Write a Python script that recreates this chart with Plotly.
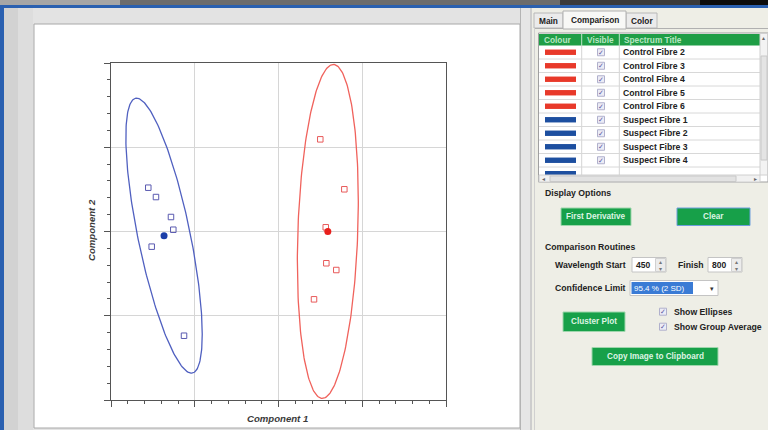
import numpy as np
import plotly.graph_objects as go

W, H = 768, 430

# ---------------- data ----------------
control_x = [2.499, 2.786, 2.564, 2.571, 2.690, 2.424]
control_y = [3.094, 2.501, 2.050, 1.623, 1.543, 1.195]
suspect_x = [0.445, 0.537, 0.716, 0.744, 0.486, 0.872]
suspect_y = [2.520, 2.409, 2.172, 2.021, 1.820, 0.763]

# confidence ellipse extents: half-width, half-height, x-offset of the top point
control_ellipse = [0.364, 1.982, 0.066]
suspect_ellipse = [0.456, 1.632, -0.327]

spectrum_titles = ["Control Fibre 2", "Control Fibre 3", "Control Fibre 4",
                   "Control Fibre 5", "Control Fibre 6", "Suspect Fibre 1",
                   "Suspect Fibre 2", "Suspect Fibre 3", "Suspect Fibre 4"]
spectrum_groups = ["control"] * 5 + ["suspect"] * 4
table_headers = ["Colour", "Visible", "Spectrum Title"]

wavelength_start = "450"
wavelength_finish = "800"
confidence_limit = "95.4 % (2 SD)"

RED_SW = "#e8392a"
BLUE_SW = "#1d4fa0"
FONT = "Liberation Sans, Arial, sans-serif"


def ellipse(cx, cy, hx, hy, dx_top, n=240):
    M = np.array([[hx ** 2, dx_top * hy], [dx_top * hy, hy ** 2]])
    L = np.linalg.cholesky(M)
    t = np.linspace(0, 2 * np.pi, n)
    p = L @ np.vstack([np.cos(t), np.sin(t)])
    return cx + p[0], cy + p[1]


fig = go.Figure()

groups = [
    (control_x, control_y, control_ellipse, "#f0625c", "#e85a5a", "#e8201c"),
    (suspect_x, suspect_y, suspect_ellipse, "#5060c0", "#5a5ab0", "#1c3fa8"),
]
for gx, gy, ell, ecol, pcol, mcol in groups:
    cx, cy = float(np.mean(gx)), float(np.mean(gy))
    ex, ey = ellipse(cx, cy, *ell)
    fig.add_trace(go.Scatter(x=ex, y=ey, mode="lines",
                             line=dict(color=ecol, width=1.3), hoverinfo="skip"))
    fig.add_trace(go.Scatter(x=gx, y=gy, mode="markers",
                             marker=dict(symbol="square-open", size=5.5,
                                         color=pcol, line=dict(width=1, color=pcol))))
    fig.add_trace(go.Scatter(x=[cx], y=[cy], mode="markers",
                             marker=dict(symbol="circle", size=7, color=mcol)))

# ---------------- UI decoration ----------------
shapes = []
annotations = []


def X(px):
    return px / W


def Y(py):
    return 1 - py / H


def rect(x0, y0, x1, y1, fill, line=None, lw=1):
    shapes.append(dict(type="rect", xref="paper", yref="paper",
                       x0=X(x0), x1=X(x1), y0=Y(y1), y1=Y(y0),
                       fillcolor=fill, layer="below",
                       line=dict(color=line if line else fill, width=lw if line else 0)))


def hline(x0, x1, y, color, w=1):
    shapes.append(dict(type="line", xref="paper", yref="paper",
                       x0=X(x0), x1=X(x1), y0=Y(y), y1=Y(y), layer="below",
                       line=dict(color=color, width=w)))


def vline(x, y0, y1, color, w=1):
    shapes.append(dict(type="line", xref="paper", yref="paper",
                       x0=X(x), x1=X(x), y0=Y(y0), y1=Y(y1), layer="below",
                       line=dict(color=color, width=w)))


def text(x, y, s, size=8.7, color="#222222", bold=True, anchor="left",
         italic=False, angle=0):
    annotations.append(dict(xref="paper", yref="paper", x=X(x), y=Y(y), text=s,
                            showarrow=False, xanchor=anchor, yanchor="middle",
                            borderpad=0, textangle=angle,
                            font=dict(family=FONT, size=size, color=color,
                                      weight="bold" if bold else "normal",
                                      style="italic" if italic else "normal")))


# window frame / background
rect(0, 0, 120, 5, "#a6a6a6")
rect(120, 0, 560, 5, "#6c6c6c")
rect(560, 0, 700, 5, "#3a3a3a")
rect(700, 0, 768, 5, "#0c0c0c")
rect(0, 5, 768, 8, "#2a60b0")
rect(0, 5, 4, 430, "#2a60b0")
rect(4, 8, 768, 430, "#e3e3e3")
rect(4, 8, 18, 430, "#d2d2d2")
rect(18, 8, 33, 430, "#dddddd")
# white chart panel
rect(34, 24, 520, 428, "#ffffff", "#a8a8a8", 1)
# splitter
rect(520, 8, 532, 430, "#e6e6e6")
vline(520.5, 8, 430, "#b4b4b4")
vline(531, 8, 430, "#b4b4b4")
# right panel
rect(532, 8, 768, 430, "#eeeee6")

# tabs
rect(534, 13, 563, 28, "#ebebeb", "#b8b8b8")
rect(626, 13, 657, 28, "#ebebeb", "#b8b8b8")
hline(534, 768, 28.5, "#b0b0b0")
vline(534.5, 28, 430, "#d0d0d0")
rect(563, 11, 626, 29, "#f8f8f6", "#b0b0b0")
text(548.5, 20.5, "Main", 8.3, anchor="center")
text(594.5, 20, "Comparison", 8.3, anchor="center")
text(641.5, 20.5, "Color", 8.3, anchor="center")

# table
rect(538.5, 33, 768, 182, "#ffffff", "#a0a0a0")
rect(539, 34, 760, 45.5, "#1f9e46")
vline(581.7, 34, 45.5, "#bfe6c8")
vline(619.3, 34, 45.5, "#bfe6c8")
text(557.5, 39.8, table_headers[0], 8.3, "#b8e6c2", anchor="center")
text(600.5, 39.8, table_headers[1], 8.3, "#b8e6c2", anchor="center")
text(623, 39.8, table_headers[2], 8.3, "#b8e6c2")

ROW0, ROWH = 45.5, 13.5
vline(581.7, 45.5, 175, "#d4d4d4")
vline(619.3, 45.5, 175, "#d4d4d4")
for i, (title, grp) in enumerate(zip(spectrum_titles, spectrum_groups)):
    y0 = ROW0 + ROWH * i
    yc = y0 + ROWH / 2
    hline(539, 760, y0 + ROWH, "#d8d8d8")
    rect(545, yc - 2.7, 576, yc + 2.7, RED_SW if grp == "control" else BLUE_SW)
    rect(597.5, yc - 3.5, 604.5, yc + 3.5, "#ececf6", "#b0b0cc")
    text(601, yc, "✓", 7, "#5a5aa0", bold=False, anchor="center")
    text(621.5, yc, title, 8.7)
# partially visible next row
rect(545, 171, 576, 175, BLUE_SW)

# scrollbars
rect(760, 33.5, 767.5, 175, "#f3f3f3", "#d0d0d0")
rect(761, 56, 767, 160, "#e4e4e4", "#c8c8c8")
text(763.5, 38.5, "▴", 5.5, "#666666", bold=False, anchor="center")
rect(539, 175, 760, 182, "#f1f1f1", "#d0d0d0")
rect(550, 176, 736, 181.5, "#e2e2e2", "#c8c8c8")
text(543, 178.5, "◂", 6, "#666666", bold=False, anchor="center")
text(755, 178.5, "▸", 6, "#666666", bold=False, anchor="center")

# options
GREEN = "#17a049"
BTN_TXT = "#def4e4"
text(544, 192.5, "Display Options", 8.7)
rect(561, 208, 631, 225.5, GREEN, "#9ed6ac")
text(596, 216.8, "First Derivative", 8.2, BTN_TXT, anchor="center")
rect(677, 208, 750, 225.5, GREEN, "#6c9edc")
text(713.5, 216.8, "Clear", 8.2, BTN_TXT, anchor="center")

text(544, 246.5, "Comparison Routines", 8.7)
text(554, 264.5, "Wavelength Start", 8.7)
rect(632, 257.5, 666, 272, "#ffffff", "#c4c4c4")
text(634.5, 264.8, wavelength_start, 8.5)
rect(655.5, 258.5, 665.5, 271.5, "#ececec", "#d0d0d0")
text(660.5, 261.5, "▴", 5.5, "#777777", bold=False, anchor="center")
text(660.5, 268.5, "▾", 5.5, "#777777", bold=False, anchor="center")
text(677, 264.5, "Finish", 8.7)
rect(708, 257.5, 742, 272, "#ffffff", "#c4c4c4")
text(710.5, 264.8, wavelength_finish, 8.5)
rect(731.5, 258.5, 741.5, 271.5, "#ececec", "#d0d0d0")
text(736.5, 261.5, "▴", 5.5, "#777777", bold=False, anchor="center")
text(736.5, 268.5, "▾", 5.5, "#777777", bold=False, anchor="center")

text(554, 287.8, "Confidence Limit", 8.7)
rect(630, 280.5, 718, 295.5, "#ffffff", "#c4c4c4")
rect(631.5, 282, 693, 294, "#3a7bd5")
text(632.5, 288, confidence_limit, 8, "#ffffff", bold=False)
text(712, 288.5, "▾", 7, "#333333", bold=False, anchor="center")

rect(563, 312, 625, 331.5, GREEN, "#9ed6ac")
text(594, 321.8, "Cluster Plot", 8.2, BTN_TXT, anchor="center")
rect(659.5, 308.2, 666.5, 315.2, "#ececf6", "#b0b0cc")
text(663, 311.7, "✓", 7, "#5a5aa0", bold=False, anchor="center")
text(672.5, 311.7, "Show Ellipses", 8.7)
rect(659.5, 323.2, 666.5, 330.2, "#ececf6", "#b0b0cc")
text(663, 326.7, "✓", 7, "#5a5aa0", bold=False, anchor="center")
text(672.5, 326.7, "Show Group Average", 8.7)

rect(592, 347.5, 718, 365.5, GREEN, "#9ed6ac")
text(655, 356.6, "Copy Image to Clipboard", 8.2, BTN_TXT, anchor="center")

# axis titles
text(277.5, 418.5, "Component 1", 9.6, "#3a3a3a", italic=True, anchor="center")
text(91.5, 230.5, "Component 2", 9.6, "#3a3a3a", italic=True, anchor="center", angle=-90)

axis_common = dict(
    range=[0, 4], dtick=1, tick0=0, showgrid=True, gridcolor="#d6d6d6", gridwidth=1,
    zeroline=False, showticklabels=False, ticks="outside", ticklen=6,
    tickcolor="#555555", tickwidth=1, showline=True, linecolor="#555555",
    linewidth=1, mirror=True,
    minor=dict(dtick=0.2, ticks="outside", ticklen=3, tickcolor="#555555",
               showgrid=False),
)

fig.update_layout(
    width=W, height=H, margin=dict(l=0, r=0, t=0, b=0),
    paper_bgcolor="#e3e3e3", plot_bgcolor="rgba(0,0,0,0)",
    showlegend=False, hovermode=False,
    xaxis=dict(domain=[111 / W, 446 / W], **axis_common),
    yaxis=dict(domain=[30 / H, 367 / H], **axis_common),
    shapes=shapes, annotations=annotations,
)

fig.write_html("out.html", config={"displayModeBar": False, "staticPlot": True},
               post_script="document.body.style.margin='0';document.body.style.overflow='hidden';")
